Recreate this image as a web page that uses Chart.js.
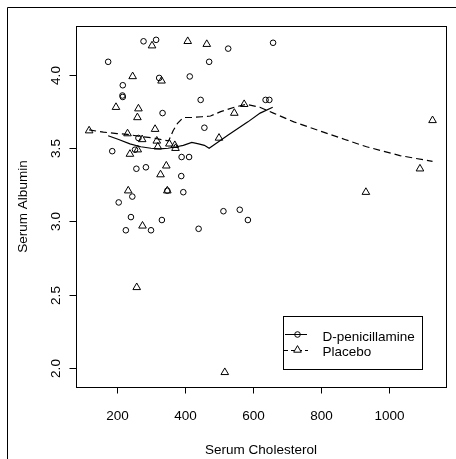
<!DOCTYPE html>
<html>
<head>
<meta charset="utf-8">
<script src="https://cdn.jsdelivr.net/npm/chart.js@4/dist/chart.umd.min.js"></script>
<style>
  html,body{margin:0;padding:0;background:#fff;}
  #wrap{width:456px;height:459px;}
</style>
</head>
<body>
<div id="wrap"><canvas id="chart" width="456" height="459"></canvas></div>
<script>
// ---- data ----
const dpenChol=[278,315,174,324,414,217,217,216,334,527,659,471,446,637,648,186,263,253,257,285,390,412,389,348,395,245,205,241,332,457,513,561,585,226,300,440];
const dpenAlb =[4.23,4.24,4.09,3.98,3.99,3.93,3.85,3.86,3.74,4.18,4.22,4.09,3.83,3.83,3.83,3.48,3.57,3.49,3.36,3.37,3.44,3.44,3.31,3.21,3.20,3.17,3.13,3.03,3.01,3.64,3.07,3.08,3.01,2.94,2.94,2.95];

const placChol=[118,197,246,263,260,231,274,312,317,320,354,370,372,238,261,345,328,233,348,303,408,464,331,500,545,574,275,258,517,1128,1091,932];
const placAlb =[3.62,3.78,3.99,3.77,3.71,3.60,3.56,3.63,3.55,3.51,3.53,3.52,3.50,3.46,3.49,3.38,3.32,3.21,3.21,4.20,4.23,4.21,3.96,3.57,3.74,3.80,2.97,2.55,1.97,3.69,3.36,3.20];

// smoothed curves
const dpenSmoothX=[174,205,238,270,300,326,350,375,395,420,440,457,471,527,585,621,658];
const dpenSmoothY=[3.585,3.56,3.53,3.51,3.50,3.495,3.50,3.51,3.52,3.54,3.53,3.52,3.50,3.59,3.68,3.74,3.78];
const placSmoothX=[118,160,200,230,270,307,340,352,365,378,395,420,450,475,505,545,580,620,660,720,807,870,934,1032,1128];
const placSmoothY=[3.625,3.61,3.60,3.595,3.58,3.57,3.555,3.55,3.62,3.67,3.71,3.71,3.715,3.72,3.75,3.78,3.80,3.78,3.74,3.68,3.61,3.56,3.51,3.45,3.41];

const xTicks=[200,400,600,800,1000];
const yTicks=[2.0,2.5,3.0,3.5,4.0];
const xRange=[79.4,1167.6];
const yRange=[1.870,4.3345];

const legendLabels=['D-penicillamine','Placebo'];

const FONT='13.5px "Liberation Sans", Arial, sans-serif';
const toXY=(xs,ys)=>xs.map((x,i)=>({x,y:ys[i]}));

// axes, box, titles and legend drawn R style
const rFrame={
  id:'rFrame',
  afterDraw(chart){
    const ctx=chart.ctx, a=chart.chartArea;
    const sx=chart.scales.x, sy=chart.scales.y;
    ctx.save();
    ctx.strokeStyle='#000';ctx.fillStyle='#000';ctx.lineWidth=1;
    // outer figure frame (left/top only visible)
    ctx.beginPath();
    ctx.moveTo(7.5,470);ctx.lineTo(7.5,7.5);ctx.lineTo(470,7.5);
    ctx.stroke();
    // plot box
    ctx.strokeRect(Math.round(a.left)+0.5,Math.round(a.top)+0.5,Math.round(a.right-a.left),Math.round(a.bottom-a.top));
    ctx.font=FONT;
    // x axis
    ctx.textAlign='center';ctx.textBaseline='alphabetic';
    xTicks.forEach(v=>{
      const px=Math.round(sx.getPixelForValue(v))+0.5;
      ctx.beginPath();ctx.moveTo(px,a.bottom);ctx.lineTo(px,a.bottom+6.5);ctx.stroke();
      ctx.fillText(String(v),px,a.bottom+33);
    });
    ctx.fillText('Serum Cholesterol',(a.left+a.right)/2,a.bottom+67);
    // y axis
    yTicks.forEach(v=>{
      const py=Math.round(sy.getPixelForValue(v))+0.5;
      ctx.beginPath();ctx.moveTo(a.left,py);ctx.lineTo(a.left-6.5,py);ctx.stroke();
      ctx.save();ctx.translate(a.left-16,py);ctx.rotate(-Math.PI/2);
      ctx.fillText(v.toFixed(1),0,0);ctx.restore();
    });
    ctx.save();ctx.translate(a.left-49.5,(a.top+a.bottom)/2);ctx.rotate(-Math.PI/2);
    ctx.fillText('Serum Albumin',0,0);ctx.restore();
    // legend
    const lx=283.5, ly=316.5, lw=139, lh=53;
    ctx.fillStyle='#fff';ctx.fillRect(lx,ly,lw,lh);
    ctx.strokeRect(lx,ly,lw,lh);
    ctx.fillStyle='#000';
    ctx.beginPath();ctx.moveTo(285,334.5);ctx.lineTo(307,334.5);ctx.stroke();
    ctx.beginPath();ctx.arc(297.5,334.5,2.8,0,Math.PI*2);ctx.stroke();
    ctx.setLineDash([4,3]);
    ctx.beginPath();ctx.moveTo(284,350.5);ctx.lineTo(308,350.5);ctx.stroke();
    ctx.setLineDash([]);
    const r=4.4, tx=297.5, ty=350;
    ctx.beginPath();
    ctx.moveTo(tx,ty-r);ctx.lineTo(tx+r*0.866,ty+r/2);ctx.lineTo(tx-r*0.866,ty+r/2);ctx.closePath();
    ctx.fillStyle='#fff';ctx.fill();ctx.stroke();
    ctx.fillStyle='#000';ctx.textAlign='left';
    ctx.fillText(legendLabels[0],322.5,341);
    ctx.fillText(legendLabels[1],322.5,356);
    ctx.restore();
  }
};

new Chart(document.getElementById('chart'),{
  type:'scatter',
  data:{
    datasets:[
      {label:legendLabels[0],data:toXY(dpenChol,dpenAlb),pointStyle:'circle',pointRadius:2.8,
        borderColor:'#000',backgroundColor:'rgba(0,0,0,0)',borderWidth:1},
      {label:legendLabels[1],data:toXY(placChol,placAlb),pointStyle:'triangle',pointRadius:4.4,
        borderColor:'#000',backgroundColor:'rgba(0,0,0,0)',borderWidth:1},
      {label:'dpen smooth',data:toXY(dpenSmoothX,dpenSmoothY),showLine:true,pointRadius:0,
        borderColor:'#000',borderWidth:1.2,tension:0},
      {label:'placebo smooth',data:toXY(placSmoothX,placSmoothY),showLine:true,pointRadius:0,
        borderColor:'#000',borderWidth:1.2,borderDash:[7,4],tension:0}
    ]
  },
  options:{
    responsive:false,
    animation:false,
    events:[],
    layout:{padding:{left:76,top:26,right:10,bottom:72}},
    plugins:{legend:{display:false},tooltip:{enabled:false}},
    scales:{
      x:{type:'linear',display:false,min:xRange[0],max:xRange[1]},
      y:{type:'linear',display:false,min:yRange[0],max:yRange[1]}
    }
  },
  plugins:[rFrame]
});
</script>
</body>
</html>
